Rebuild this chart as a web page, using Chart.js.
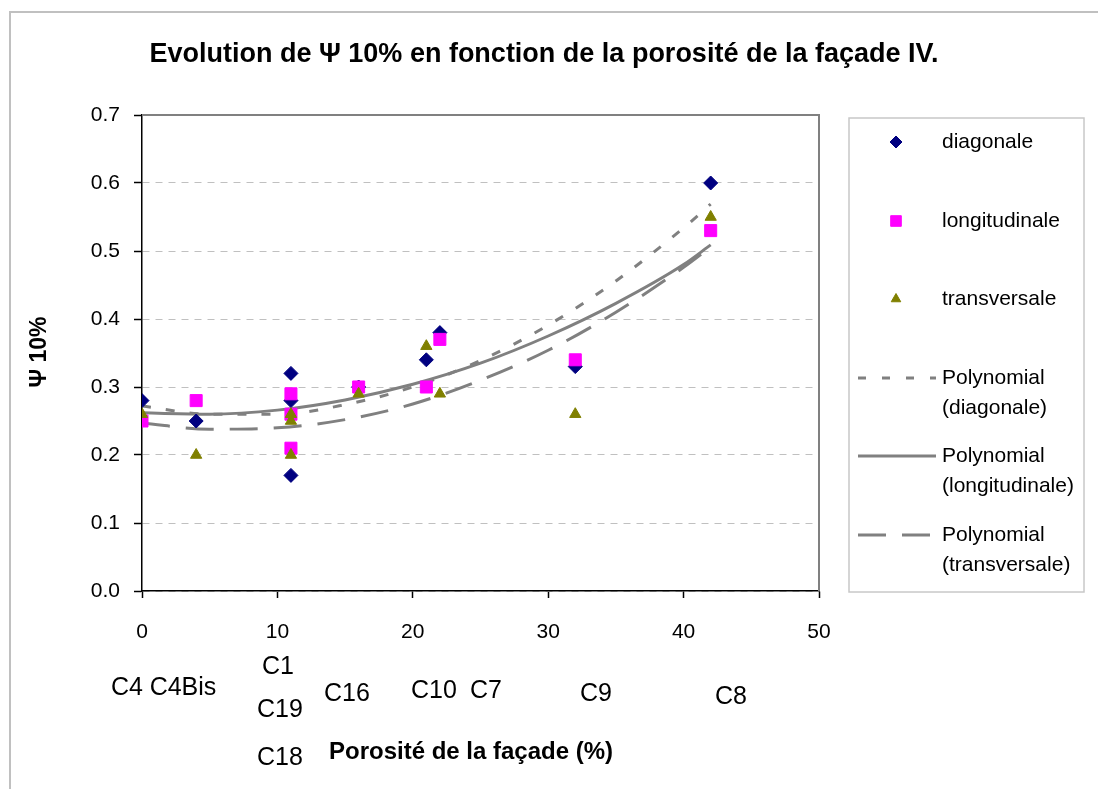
<!DOCTYPE html>
<html>
<head>
<meta charset="utf-8">
<script src="https://cdn.jsdelivr.net/npm/chart.js@4.4.1/dist/chart.umd.min.js"></script>
<style>
  html, body { margin: 0; padding: 0; background: #fff; }
  #wrap { width: 1098px; height: 789px; position: relative; }
</style>
</head>
<body>
<div id="wrap"><canvas id="psiChart" width="1098" height="789"></canvas></div>
<script>
// porosity (%) of each case, same order as caseNames
const caseNames = ['C4', 'C4Bis', 'C1', 'C19', 'C18', 'C16', 'C10', 'C7', 'C9', 'C8'];
const porosity = [0, 4, 11, 11, 11, 16, 21, 22, 32, 42];

const diagonale = [0.28, 0.25, 0.32, 0.28, 0.17, 0.30, 0.34, 0.38, 0.33, 0.60];
const longitudinale = [0.25, 0.28, 0.29, 0.26, 0.21, 0.30, 0.30, 0.37, 0.34, 0.53];
const transversale = [0.26, 0.20, 0.26, 0.25, 0.20, 0.29, 0.36, 0.29, 0.26, 0.55];

// trend curves
const trendX = [0, 5, 10, 15, 20, 25, 30, 35, 40, 42];
const trendDiag = [0.272, 0.260, 0.260, 0.274, 0.300, 0.339, 0.391, 0.456, 0.534, 0.569];
const trendLong = [0.262, 0.260, 0.266, 0.281, 0.304, 0.335, 0.375, 0.423, 0.480, 0.509];
const trendTrans = [0.247, 0.238, 0.240, 0.252, 0.275, 0.310, 0.354, 0.410, 0.476, 0.506];

const yTicks = [0, 0.1, 0.2, 0.3, 0.4, 0.5, 0.6, 0.7];

const FONT = '"Liberation Sans", Arial, sans-serif';
const GREY = '#808080';

function pts(xs, ys) {
    return xs.map((x, i) => ({ x: x, y: ys[i] }));
}

// where the case names sit under the axis (pixels)
const caseLabelPos = [
    [127, 688], [183, 688], [278, 667], [280, 710], [280, 758],
    [347, 694], [434, 691], [486, 691], [596, 694], [731, 697]
];

const legendItems = [
    { type: 'point', style: 'rectRot', color: '#000080', r: 6, text: ['diagonale'], y: 142 },
    { type: 'point', style: 'rect', color: '#ff00ff', r: 7.5, text: ['longitudinale'], y: 221 },
    { type: 'point', style: 'triangle', color: '#808000', r: 5.5, text: ['transversale'], y: 299 },
    { type: 'line', dash: [8, 16], text: ['Polynomial', '(diagonale)'], y: 378 },
    { type: 'line', dash: [], text: ['Polynomial', '(longitudinale)'], y: 456 },
    { type: 'line', dash: [28, 16], text: ['Polynomial', '(transversale)'], y: 535 }
];

const decor = {
    id: 'decor',
    beforeDraw(chart) {
        const c = chart.ctx;
        c.save();
        c.fillStyle = '#fff';
        c.fillRect(0, 0, chart.width, chart.height);
        c.strokeStyle = '#c0c0c0';
        c.lineWidth = 2;
        c.beginPath();
        c.moveTo(10, 789); c.lineTo(10, 12); c.lineTo(1098, 12);
        c.stroke();
        c.restore();
    },
    afterDraw(chart) {
        const c = chart.ctx;
        const a = chart.chartArea;
        c.save();
        // plot frame (top + right)
        c.strokeStyle = GREY;
        c.lineWidth = 2;
        c.beginPath();
        c.moveTo(a.left, a.top); c.lineTo(a.right, a.top); c.lineTo(a.right, a.bottom);
        c.stroke();

        c.fillStyle = '#000';
        c.textAlign = 'center';
        c.textBaseline = 'middle';
        c.font = 'bold 27px ' + FONT;
        c.fillText('Evolution de \u03A8 10% en fonction de la porosit\u00e9 de la fa\u00e7ade IV.', 544, 55);

        c.font = 'bold 24px ' + FONT;
        c.fillText('Porosit\u00e9 de la fa\u00e7ade (%)', 471, 752);

        c.font = 'bold 23px ' + FONT;
        c.save();
        c.translate(40, 352);
        c.rotate(-Math.PI / 2);
        c.fillText('\u03A8 10%', 0, 0);
        c.restore();

        c.font = '25px ' + FONT;
        caseNames.forEach((n, i) => c.fillText(n, caseLabelPos[i][0], caseLabelPos[i][1]));

        // legend
        c.font = '21px ' + FONT;
        c.strokeStyle = '#c8c8c8';
        c.lineWidth = 1.5;
        c.strokeRect(849, 118, 235, 474);
        c.textAlign = 'left';
        legendItems.forEach(it => {
            if (it.type === 'point') {
                c.fillStyle = it.color;
                c.strokeStyle = it.color;
                c.lineWidth = 1;
                Chart.helpers.drawPoint(c, { pointStyle: it.style, radius: it.r, rotation: 0, borderWidth: 1 }, 896, it.y);
            } else {
                c.strokeStyle = GREY;
                c.lineWidth = 3;
                c.setLineDash(it.dash);
                c.beginPath();
                c.moveTo(858, it.y); c.lineTo(936, it.y);
                c.stroke();
                c.setLineDash([]);
            }
            c.fillStyle = '#000';
            it.text.forEach((t, k) => c.fillText(t, 942, it.y + k * 30));
        });
        c.restore();
    }
};

const ctx = document.getElementById('psiChart');
const psiChart = new Chart(ctx, {
    type: 'scatter',
    data: {
        datasets: [
            {
                label: 'diagonale',
                data: pts(porosity, diagonale),
                pointStyle: 'rectRot',
                pointRadius: 7,
                backgroundColor: '#000080',
                borderColor: '#000080',
                borderWidth: 1,
                order: 3
            },
            {
                label: 'longitudinale',
                data: pts(porosity, longitudinale),
                pointStyle: 'rect',
                pointRadius: 8.5,
                backgroundColor: '#ff00ff',
                borderColor: '#ff00ff',
                borderWidth: 1,
                order: 2
            },
            {
                label: 'transversale',
                data: pts(porosity, transversale),
                pointStyle: 'triangle',
                pointRadius: 6.5,
                backgroundColor: '#808000',
                borderColor: '#808000',
                borderWidth: 1,
                order: 1
            },
            {
                label: 'Polynomial (diagonale)',
                type: 'line',
                data: pts(trendX, trendDiag),
                borderColor: GREY,
                borderWidth: 3,
                borderDash: [9, 15],
                pointRadius: 0,
                cubicInterpolationMode: 'monotone',
                fill: false,
                order: 4
            },
            {
                label: 'Polynomial (longitudinale)',
                type: 'line',
                data: pts(trendX, trendLong),
                borderColor: GREY,
                borderWidth: 3,
                pointRadius: 0,
                cubicInterpolationMode: 'monotone',
                fill: false,
                order: 5
            },
            {
                label: 'Polynomial (transversale)',
                type: 'line',
                data: pts(trendX, trendTrans),
                borderColor: GREY,
                borderWidth: 3,
                borderDash: [28, 16],
                pointRadius: 0,
                cubicInterpolationMode: 'monotone',
                fill: false,
                order: 6
            }
        ]
    },
    options: {
        responsive: false,
        animation: false,
        events: [],
        layout: { padding: { top: 115, left: 0, right: 279, bottom: 0 } },
        plugins: {
            legend: { display: false },
            title: { display: false },
            tooltip: { enabled: false }
        },
        scales: {
            x: {
                type: 'linear',
                min: 0,
                max: 50,
                ticks: { stepSize: 10, color: '#000', font: { family: FONT, size: 21 }, padding: 22 },
                grid: { drawOnChartArea: false, drawTicks: true, tickLength: 7, tickColor: '#000', tickWidth: 1.5 },
                border: { color: '#000', width: 1.5 },
                afterFit: s => { s.height = 198; }
            },
            y: {
                min: 0,
                max: 0.7,
                afterBuildTicks: s => { s.ticks = yTicks.map(v => ({ value: v })); },
                ticks: {
                    color: '#000',
                    font: { family: FONT, size: 21 },
                    padding: 14,
                    callback: v => v.toFixed(1)
                },
                grid: {
                    color: '#c0c0c0',
                    lineWidth: 1,
                    tickLength: 8,
                    tickColor: '#000',
                    tickWidth: 1.5,
                    tickBorderDash: []
                },
                border: { color: '#000', width: 1.5, dash: [7, 6] },
                afterFit: s => { s.width = 142; }
            }
        }
    },
    plugins: [decor]
});
</script>
</body>
</html>
